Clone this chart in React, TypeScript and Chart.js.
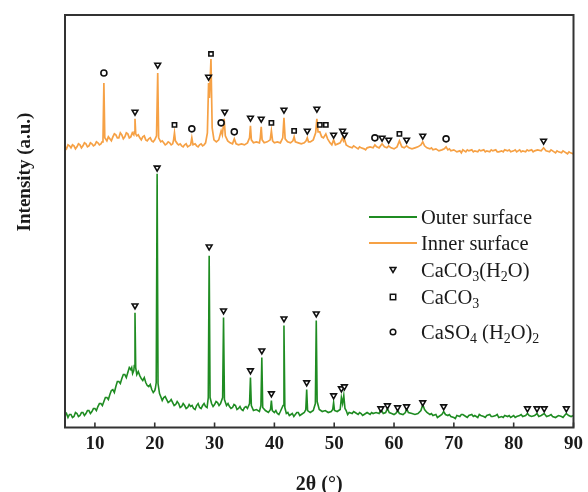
import React, { useEffect, useRef } from "react";
import { Chart, registerables } from "chart.js";

Chart.register(...registerables);

// 2θ (deg) vs. intensity (a.u.) — Outer surface (green)
const outerSurface: [number, number][] = [
  [5.0, 12], [5.5, 10], [6.0, 13], [6.5, 11], [7.0, 14], [7.5, 12], [8.0, 15], [8.5, 14], [9.0, 17], [9.5, 16],
  [10.0, 19], [10.5, 21], [11.0, 24], [11.5, 26], [12.0, 30], [12.5, 33], [13.0, 38], [13.5, 41], [14.0, 46], [14.5, 49],
  [15.0, 53], [15.5, 55], [16.0, 58], [16.3, 54], [16.5, 57], [16.58, 62], [16.7, 115], [16.82, 60], [17.0, 53], [17.5, 52],
  [18.0, 47], [18.5, 45], [19.0, 41], [19.5, 38], [20.0, 37], [20.25, 45], [20.4, 254], [20.55, 44], [20.8, 34], [21.0, 31],
  [21.5, 30], [22.0, 28], [22.5, 26], [23.0, 25], [23.5, 23], [24.0, 24], [24.5, 21], [25.0, 22], [25.5, 20], [26.0, 21],
  [26.5, 19], [27.0, 22], [27.5, 20], [28.0, 22], [28.5, 21], [28.95, 30], [29.1, 172], [29.25, 30], [29.5, 24], [30.0, 23],
  [30.5, 25], [31.0, 24], [31.35, 30], [31.5, 110], [31.65, 28], [32.0, 22], [32.5, 21], [33.0, 20], [33.5, 22], [34.0, 19],
  [34.5, 18], [35.0, 20], [35.5, 19], [35.85, 24], [36.0, 50], [36.15, 22], [36.5, 17], [37.0, 18], [37.5, 16], [37.75, 22],
  [37.9, 70], [38.05, 20], [38.5, 17], [39.0, 15], [39.35, 18], [39.5, 27], [39.65, 17], [40.0, 15], [40.5, 14], [41.0, 16],
  [41.45, 22], [41.6, 102], [41.75, 20], [42.0, 14], [42.5, 12], [43.0, 14], [43.5, 13], [44.0, 15], [44.5, 13], [45.0, 15],
  [45.25, 18], [45.4, 38], [45.55, 17], [46.0, 15], [46.5, 17], [46.85, 24], [47.0, 107], [47.15, 26], [47.5, 18], [48.0, 16],
  [48.5, 17], [49.0, 15], [49.5, 16], [49.75, 18], [49.9, 25], [50.05, 17], [50.5, 16], [51.0, 18], [51.2, 30], [51.4, 24],
  [51.6, 32], [51.8, 19], [52.0, 17], [52.5, 15], [53.0, 14], [53.5, 15], [54.0, 13], [54.5, 14], [55.0, 13], [55.5, 15],
  [56.0, 13], [56.5, 14], [57.0, 15], [57.5, 14], [57.8, 18], [58.2, 14], [58.6, 15], [58.9, 19], [59.2, 15], [59.6, 14],
  [60.0, 13], [60.3, 14], [60.6, 17], [60.9, 14], [61.5, 13], [61.9, 15], [62.1, 19], [62.4, 15], [63.0, 14], [63.5, 13],
  [64.0, 14], [64.5, 17], [64.8, 23], [65.1, 18], [65.5, 15], [66.0, 13], [66.5, 12], [67.0, 13], [67.5, 11], [68.0, 13],
  [68.3, 16], [68.6, 13], [69.0, 12], [69.5, 11], [70.0, 10], [70.5, 12], [71.0, 11], [71.5, 13], [72.0, 11], [72.5, 12],
  [73.0, 13], [73.5, 12], [74.0, 10], [74.5, 12], [75.0, 11], [75.5, 12], [76.0, 13], [76.5, 11], [77.0, 12], [77.5, 10],
  [78.0, 11], [78.5, 12], [79.0, 11], [79.5, 10], [80.0, 12], [80.5, 11], [81.0, 12], [81.5, 11], [82.0, 12], [82.3, 14],
  [82.6, 12], [83.0, 11], [83.5, 12], [83.9, 14], [84.2, 11], [84.6, 12], [85.1, 14], [85.5, 11], [86.0, 12], [86.5, 11],
  [87.0, 10], [87.5, 12], [88.0, 11], [88.5, 12], [88.8, 14], [89.2, 12], [89.6, 11], [90.0, 12],
  // additional readings between the half-degree points (noisy background)
  [5.25, 14], [5.75, 13], [6.25, 10], [6.75, 15], [7.25, 11], [7.75, 15], [8.25, 12], [8.75, 17], [9.25, 14], [9.75, 19],
  [10.25, 17], [10.75, 24], [11.25, 22], [11.75, 30], [12.25, 28], [12.75, 37], [13.25, 35], [13.75, 46], [14.25, 44], [14.75, 53],
  [15.25, 50], [15.75, 60], [16.15, 60], [17.25, 56], [17.75, 49], [18.25, 50], [18.75, 42], [19.25, 43], [19.75, 35], [20.1, 39],
  [21.25, 27], [21.75, 31], [22.25, 25], [22.75, 28], [23.25, 22], [23.75, 26], [24.25, 20], [24.75, 24], [25.25, 19], [25.75, 23],
  [26.25, 22], [26.75, 18], [27.25, 24], [27.75, 19], [28.25, 24], [28.75, 20], [29.75, 21], [30.25, 26], [30.75, 22], [32.25, 24],
  [32.75, 19], [33.25, 23], [33.75, 18], [34.25, 21], [34.75, 17], [35.25, 21], [40.25, 17], [40.75, 13], [42.25, 15], [43.25, 11],
  [43.75, 15], [44.25, 12], [52.25, 13], [53.25, 16], [54.25, 15], [54.75, 12], [55.25, 14], [56.25, 15], [66.25, 14], [67.25, 10],
  [69.25, 13], [70.25, 9], [71.25, 13], [72.25, 10], [73.25, 11], [74.25, 13], [75.25, 10], [76.25, 11], [77.25, 13], [78.25, 10],
  [79.25, 12], [80.25, 10], [81.25, 13], [86.25, 13], [87.25, 11], [88.25, 10],
];

// Inner surface (orange)
const innerSurface: [number, number][] = [
  [5.0, 281], [5.5, 283], [6.0, 280], [6.5, 282], [7.0, 281], [7.5, 283], [8.0, 282], [8.5, 284], [9.0, 282], [9.5, 284],
  [10.0, 283], [10.5, 285], [11.0, 284], [11.35, 288], [11.5, 345], [11.65, 290], [12.0, 287], [12.5, 289], [13.0, 291], [13.5, 293],
  [14.0, 290], [14.5, 293], [15.0, 291], [15.5, 294], [16.0, 291], [16.5, 293], [16.58, 296], [16.7, 309], [16.82, 294], [17.0, 292],
  [17.5, 290], [18.0, 291], [18.5, 288], [19.0, 289], [19.5, 287], [20.0, 288], [20.3, 292], [20.5, 355], [20.65, 290], [21.0, 286],
  [21.5, 285], [22.0, 284], [22.5, 285], [23.0, 284], [23.15, 288], [23.3, 295], [23.45, 287], [23.8, 284], [24.0, 283], [24.5, 282],
  [25.0, 283], [25.5, 281], [26.0, 283], [26.2, 290], [26.4, 283], [27.0, 282], [27.5, 283], [28.0, 282], [28.5, 285], [28.8, 295],
  [29.0, 345], [29.15, 330], [29.4, 369], [29.6, 300], [29.9, 288], [30.3, 286], [30.7, 288], [31.1, 297], [31.3, 293], [31.6, 309],
  [31.8, 292], [32.2, 287], [32.6, 285], [33.0, 284], [33.3, 289], [33.6, 284], [34.0, 283], [34.5, 284], [35.0, 283], [35.5, 285],
  [35.85, 290], [36.0, 302], [36.15, 288], [36.5, 285], [37.0, 286], [37.5, 285], [37.65, 290], [37.8, 301], [37.95, 288], [38.3, 285],
  [38.8, 286], [39.3, 288], [39.5, 297], [39.7, 287], [40.0, 285], [40.5, 286], [41.0, 285], [41.4, 290], [41.6, 310], [41.8, 289],
  [42.2, 286], [42.7, 285], [43.1, 287], [43.3, 291], [43.5, 286], [44.0, 285], [44.5, 284], [45.0, 285], [45.3, 287], [45.5, 290],
  [45.7, 286], [46.0, 286], [46.5, 288], [46.9, 295], [47.1, 309], [47.3, 296], [47.6, 296], [47.9, 291], [48.2, 290], [48.6, 294],
  [48.9, 289], [49.3, 285], [49.6, 283], [49.9, 288], [50.2, 283], [50.6, 284], [51.0, 285], [51.4, 290], [51.55, 287], [51.7, 289],
  [52.0, 283], [52.5, 281], [53.0, 280], [53.5, 281], [54.0, 279], [54.5, 280], [55.0, 279], [55.5, 280], [56.0, 281], [56.5, 280],
  [56.8, 283], [57.1, 281], [57.5, 280], [58.0, 284], [58.4, 281], [58.8, 280], [59.1, 282], [59.5, 280], [60.0, 279], [60.5, 281],
  [60.9, 287], [61.3, 281], [61.7, 280], [62.1, 282], [62.5, 280], [63.0, 279], [63.5, 280], [64.0, 281], [64.5, 283], [64.8, 286],
  [65.1, 282], [65.5, 280], [66.0, 279], [66.5, 278], [67.0, 279], [67.5, 277], [68.0, 278], [68.4, 279], [68.7, 281], [69.0, 278],
  [69.5, 277], [70.0, 278], [70.5, 276], [71.0, 277], [71.5, 278], [72.0, 276], [72.5, 277], [73.0, 278], [73.5, 277], [74.0, 276],
  [74.5, 277], [75.0, 278], [75.5, 277], [76.0, 276], [76.5, 277], [77.0, 278], [77.5, 276], [78.0, 277], [78.5, 278], [79.0, 277],
  [79.5, 276], [80.0, 277], [80.5, 276], [81.0, 278], [81.5, 277], [82.0, 276], [82.5, 277], [83.0, 278], [83.5, 277], [84.0, 278],
  [84.6, 277], [85.0, 280], [85.4, 277], [86.0, 276], [86.5, 277], [87.0, 275], [87.5, 276], [88.0, 275], [88.5, 276], [89.0, 274],
  [89.5, 275], [90.0, 274],
  // additional readings between the half-degree points (noisy background)
  [5.25, 279], [5.75, 282], [6.25, 283], [6.75, 279], [7.25, 284], [7.75, 280], [8.25, 285], [8.75, 281], [9.25, 285], [9.75, 282],
  [10.25, 286], [10.75, 283], [11.2, 286], [12.25, 291], [12.75, 287], [13.25, 294], [13.75, 290], [14.25, 295], [14.75, 289], [15.25, 295],
  [15.75, 290], [16.25, 295], [17.25, 293], [17.75, 288], [18.25, 292], [18.75, 287], [19.25, 290], [19.75, 286], [21.25, 287], [21.75, 283],
  [22.25, 286], [22.75, 283], [24.25, 284], [24.75, 281], [25.25, 284], [25.75, 282], [26.75, 284], [27.25, 281], [27.75, 284], [28.25, 283],
  [53.25, 282], [54.25, 281], [55.25, 278], [66.25, 280], [67.25, 278], [69.25, 279], [70.25, 277], [71.25, 275], [72.25, 278], [73.25, 276],
  [74.25, 278], [75.25, 276], [76.25, 278], [77.25, 276], [78.25, 276], [79.25, 278], [80.25, 278], [81.25, 276], [82.25, 278], [83.25, 276],
  [86.25, 278], [87.25, 277], [88.25, 277], [89.25, 276],
];

// Phase markers: CaCO3(H2O) (triangles), CaCO3 (squares), CaSO4(H2O)2 (circles)
const triangleMarkers: [number, number][] = [
  // on outer surface
  [16.7, 122], [20.4, 260], [29.1, 181], [31.5, 117], [36.0, 57], [37.9, 77], [39.5, 34], [41.6, 109], [45.4, 45], [47.0, 114],
  [49.9, 32], [51.2, 39], [51.7, 41], [57.8, 19], [58.9, 22], [60.6, 20], [62.1, 21], [64.8, 25], [68.3, 21], [82.3, 19],
  [83.9, 19], [85.1, 19], [88.8, 19],
  // on inner surface
  [16.7, 316], [20.5, 363], [29.0, 351], [31.7, 316], [36.0, 310], [37.8, 309], [41.6, 318], [45.5, 297], [47.1, 319], [49.9, 293],
  [51.4, 297], [51.7, 293], [58.0, 290], [59.1, 288], [62.1, 288], [64.8, 292], [85.0, 287],
];
const squareMarkers: [number, number][] = [
  [23.3, 303], [29.4, 374], [39.5, 305], [43.3, 297], [47.6, 303], [48.6, 303], [60.9, 294],
];
const circleMarkers: [number, number][] = [
  [11.5, 355], [26.2, 299], [31.1, 305], [33.3, 296], [56.8, 290], [68.7, 289],
];

const xTicks = [10, 20, 30, 40, 50, 60, 70, 80, 90];
const xRange = [5, 90];
const yRange = [0, 413];

const GREEN = "#1f8c22";
const ORANGE = "#f6a145";
const FONT = '"Liberation Serif", "Times New Roman", serif';

const toXY = (arr: [number, number][]) =>
  [...arr].sort((a, b) => a[0] - b[0]).map(([x, y]) => ({ x, y }));

const framePlugin = {
  id: "frame",
  afterDatasetsDraw(chart: any) {
    const { ctx, chartArea, scales } = chart;
    const { left, right, top, bottom } = chartArea;
    ctx.save();
    ctx.strokeStyle = "#333";
    ctx.lineWidth = 2;
    ctx.strokeRect(left, top, right - left, bottom - top);
    ctx.lineWidth = 1.6;
    for (const v of xTicks) {
      const px = scales.x.getPixelForValue(v);
      ctx.beginPath();
      ctx.moveTo(px, bottom);
      ctx.lineTo(px, bottom - 5);
      ctx.stroke();
    }
    ctx.translate(25, 172);
    ctx.rotate(-Math.PI / 2);
    ctx.font = `bold 19px ${FONT}`;
    ctx.textAlign = "center";
    ctx.textBaseline = "middle";
    ctx.fillStyle = "#1a1a1a";
    ctx.fillText("Intensity (a.u.)", 0, 0);
    ctx.restore();
  },
};

const markerBase = {
  showLine: false,
  pointRadius: 3.3,
  pointBackgroundColor: "#ffffff",
  pointBorderColor: "#111111",
  pointBorderWidth: 1.6,
  order: 0,
};

const Tri = () => (
  <svg width="8" height="8" viewBox="0 0 8 8"><polygon points="1,1.5 7,1.5 4,6.5" fill="#fff" stroke="#111" strokeWidth="1.5" /></svg>
);
const Sq = () => (
  <svg width="8" height="8" viewBox="0 0 8 8"><rect x="1.3" y="1.3" width="5.4" height="5.4" fill="#fff" stroke="#111" strokeWidth="1.5" /></svg>
);
const Circ = () => (
  <svg width="8" height="8" viewBox="0 0 8 8"><circle cx="4" cy="4" r="2.8" fill="#fff" stroke="#111" strokeWidth="1.5" /></svg>
);

export default function App() {
  const canvasRef = useRef<HTMLCanvasElement | null>(null);

  useEffect(() => {
    if (!canvasRef.current) return;
    const chart = new Chart(canvasRef.current, {
      type: "scatter",
      data: {
        datasets: [
          { ...markerBase, label: "CaCO3(H2O)", data: toXY(triangleMarkers), pointStyle: "triangle", rotation: 180 } as any,
          { ...markerBase, label: "CaCO3", data: toXY(squareMarkers), pointStyle: "rect", pointRadius: 3 } as any,
          { ...markerBase, label: "CaSO4(H2O)2", data: toXY(circleMarkers), pointStyle: "circle", pointRadius: 3 } as any,
          {
            label: "Outer surface",
            data: toXY(outerSurface),
            showLine: true,
            borderColor: GREEN,
            borderWidth: 1.6,
            pointRadius: 0,
            tension: 0,
            order: 2,
          } as any,
          {
            label: "Inner surface",
            data: toXY(innerSurface),
            showLine: true,
            borderColor: ORANGE,
            borderWidth: 1.7,
            pointRadius: 0,
            tension: 0,
            order: 1,
          } as any,
        ],
      },
      options: {
        animation: false,
        responsive: false,
        events: [],
        layout: { padding: { left: 65, top: 15, right: 11, bottom: 0 } },
        plugins: { legend: { display: false }, tooltip: { enabled: false } },
        scales: {
          x: {
            type: "linear",
            min: xRange[0],
            max: xRange[1],
            grid: { display: false, drawTicks: false },
            border: { display: false },
            afterBuildTicks: (scale: any) => {
              scale.ticks = xTicks.map((v) => ({ value: v }));
            },
            afterFit: (scale: any) => {
              scale.height = 64.5;
            },
            ticks: {
              padding: 5,
              color: "#1a1a1a",
              font: { family: FONT, size: 19, weight: "bold" },
              callback: (v: any) => String(v),
            },
            title: {
              display: true,
              text: "2θ (°)",
              color: "#1a1a1a",
              font: { family: FONT, size: 20, weight: "bold", lineHeight: 1 },
              padding: { top: 0, bottom: -3 },
            },
          },
          y: {
            display: false,
            min: yRange[0],
            max: yRange[1],
          },
        },
      },
      plugins: [framePlugin],
    } as any);
    return () => chart.destroy();
  }, []);

  const rowStyle = (cy: number): React.CSSProperties => ({
    position: "absolute",
    left: 0,
    top: cy - 13,
    height: 26,
    display: "flex",
    alignItems: "center",
    whiteSpace: "nowrap",
  });
  const sampleBox: React.CSSProperties = { width: 57, display: "flex", justifyContent: "center", alignItems: "center" };
  const sub: React.CSSProperties = { fontSize: "0.68em", verticalAlign: "-0.3em", lineHeight: 0 };

  return (
    <div style={{ position: "absolute", left: 0, top: 0, width: 588, height: 492, background: "#fff" }}>
      <canvas ref={canvasRef} width={588} height={492} style={{ display: "block" }} />
      <div style={{ position: "absolute", left: 364, top: 0, fontFamily: FONT, fontSize: 20.5, color: "#1a1a1a" }}>
        <div style={rowStyle(217)}>
          <div style={sampleBox}><div style={{ width: 48, height: 1.5, background: GREEN }} /></div>
          <span>Outer surface</span>
        </div>
        <div style={rowStyle(243)}>
          <div style={sampleBox}><div style={{ width: 48, height: 1.5, background: ORANGE }} /></div>
          <span>Inner surface</span>
        </div>
        <div style={rowStyle(270)}>
          <div style={sampleBox}><Tri /></div>
          <span>CaCO<span style={sub}>3</span>(H<span style={sub}>2</span>O)</span>
        </div>
        <div style={rowStyle(297)}>
          <div style={sampleBox}><Sq /></div>
          <span>CaCO<span style={sub}>3</span></span>
        </div>
        <div style={rowStyle(332)}>
          <div style={sampleBox}><Circ /></div>
          <span>CaSO<span style={sub}>4</span> (H<span style={sub}>2</span>O)<span style={sub}>2</span></span>
        </div>
      </div>
    </div>
  );
}
